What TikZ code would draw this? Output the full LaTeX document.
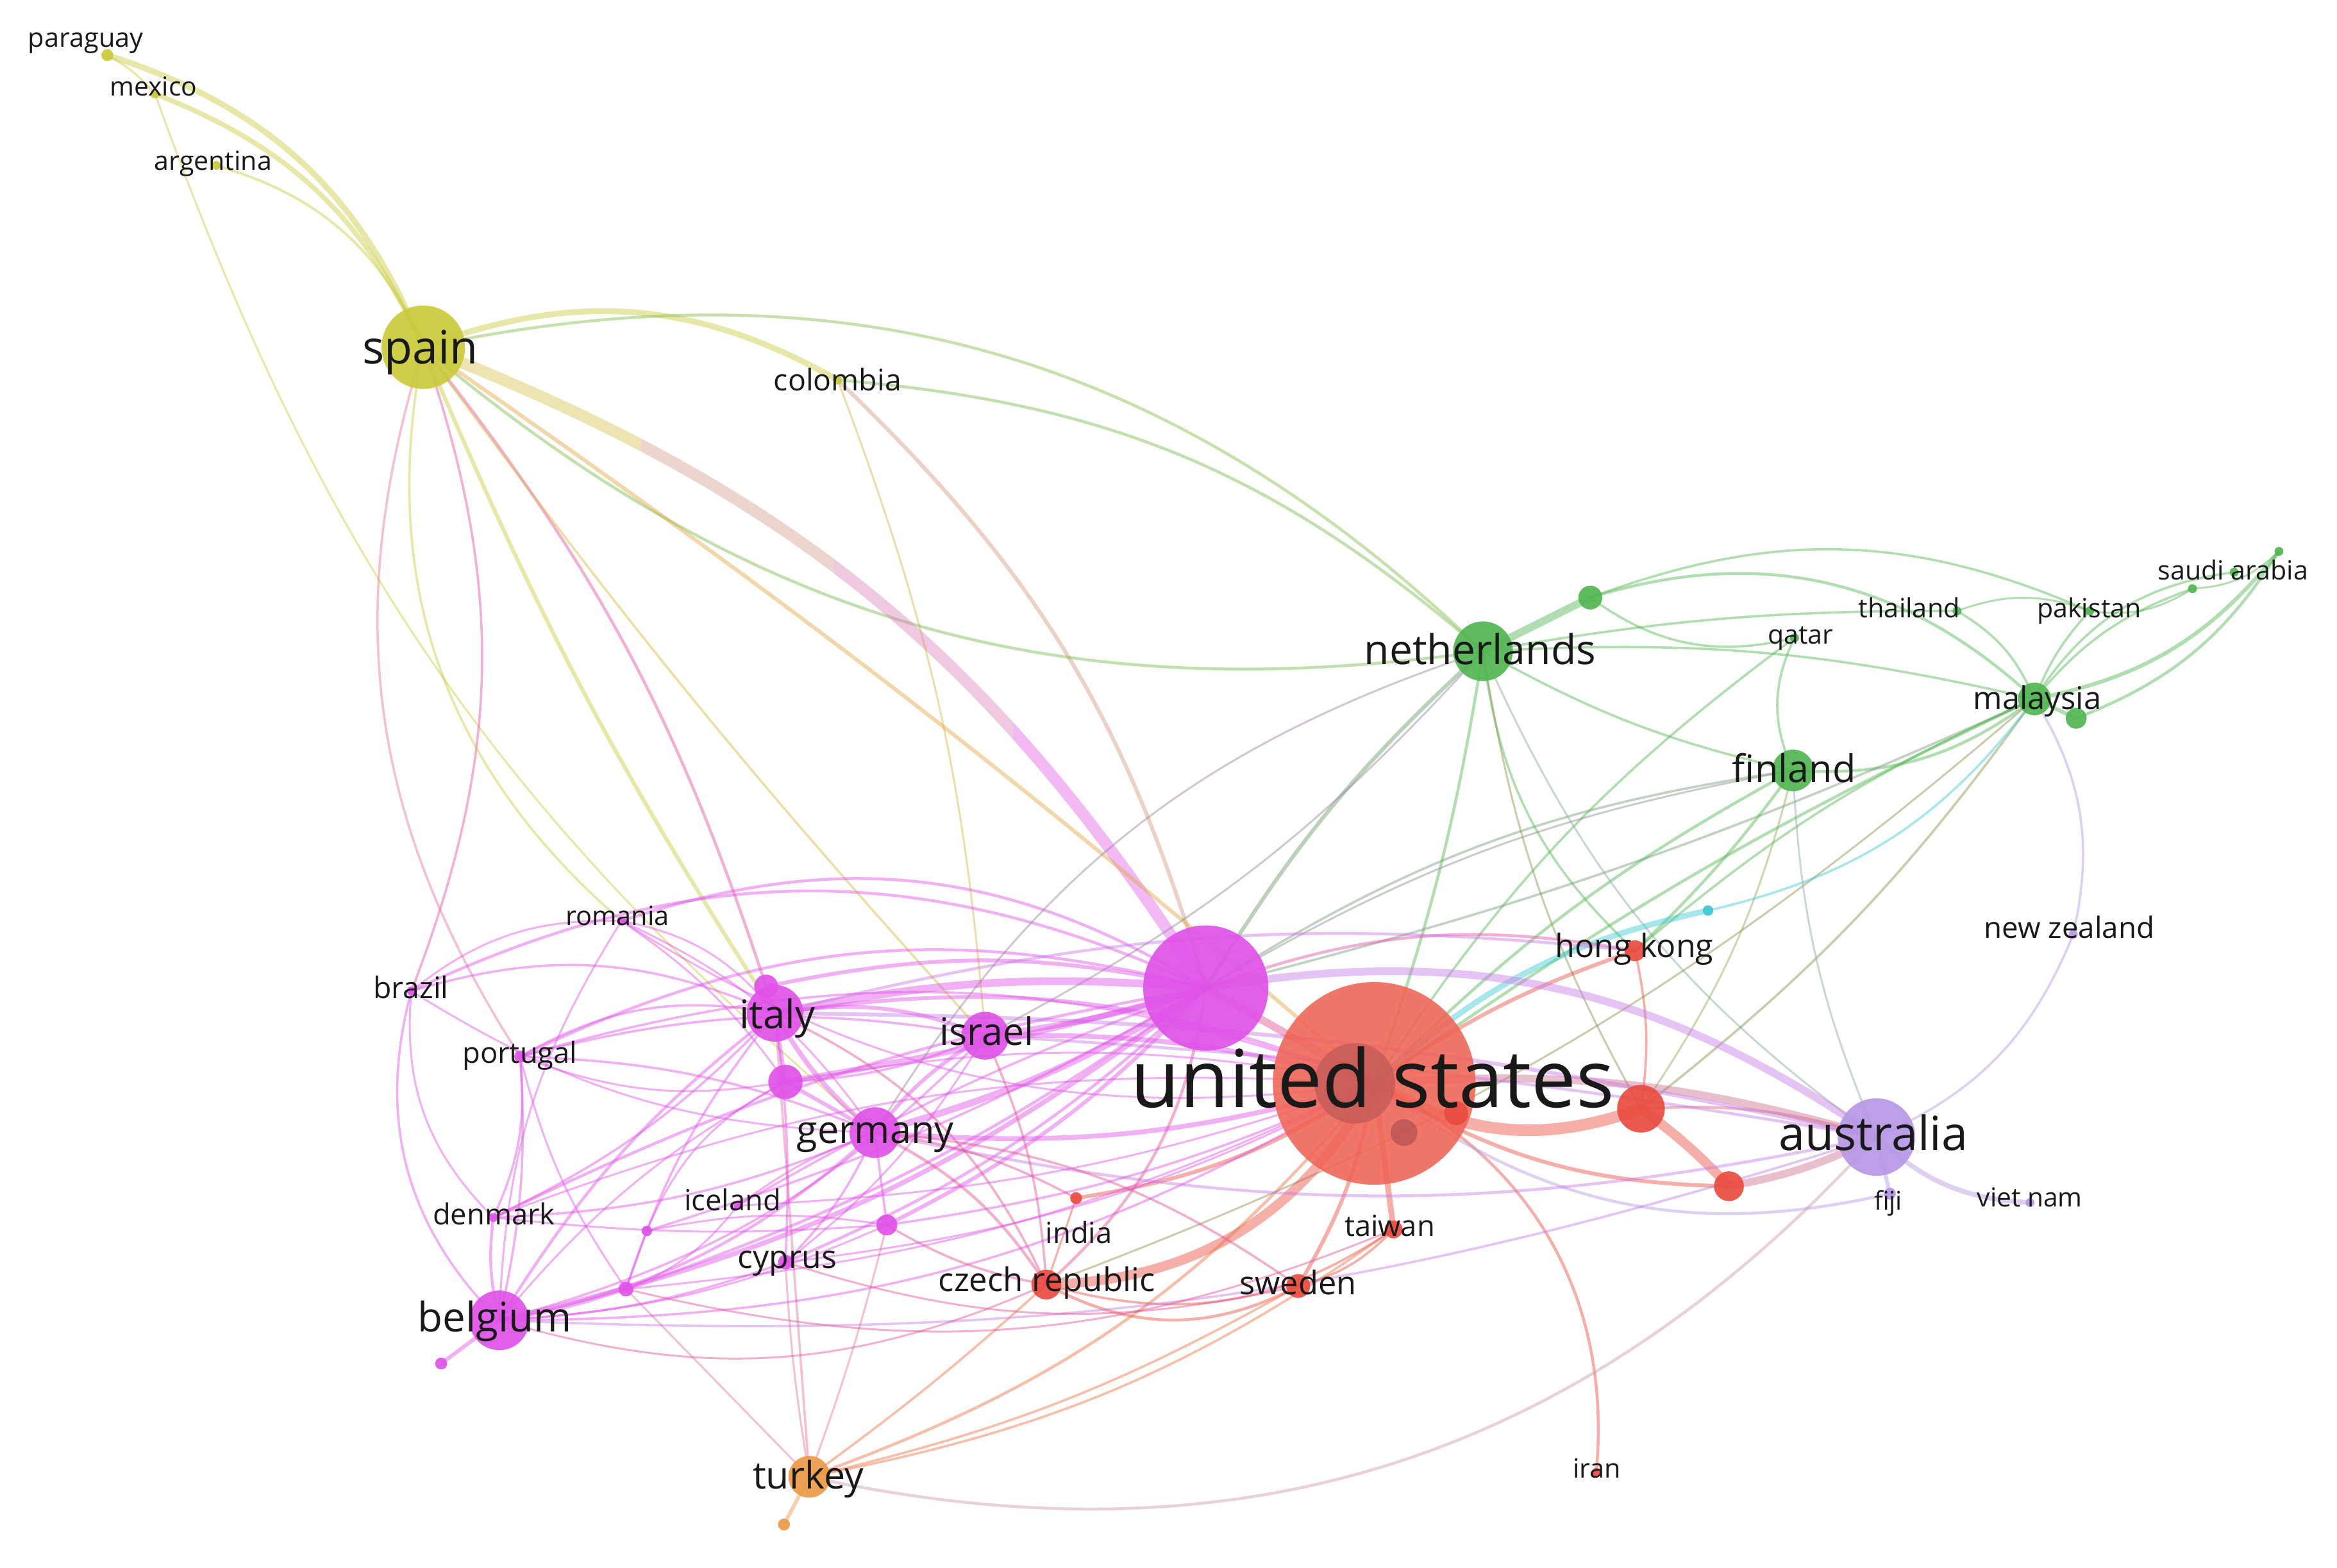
\documentclass[tikz,border=0pt]{standalone}
\usepackage{fontspec}
\setmainfont{Open Sans}
\pgfdeclarelayer{bg}
\pgfdeclarelayer{edges}
\pgfsetlayers{bg,edges,main}
\definecolor{cR}{RGB}{234,76,64}
\definecolor{cUS}{RGB}{240,100,86}
\definecolor{cRd}{RGB}{190,88,86}
\definecolor{cM}{RGB}{224,82,232}
\definecolor{cG}{RGB}{82,182,82}
\definecolor{cY}{RGB}{202,202,60}
\definecolor{cL}{RGB}{182,152,230}
\definecolor{cO}{RGB}{236,154,72}
\definecolor{cC}{RGB}{62,200,212}
\definecolor{txt}{RGB}{25,25,25}
\def\lwf{1.3}
\begin{document}
\begin{tikzpicture}[x=0.23246mm,y=-0.23246mm,
  nd/.style={circle,inner sep=0pt,outer sep=0pt,minimum size=#1*0.46492mm,fill opacity=0.92},
  lw/.style={line width=#1*\lwf*0.6594pt},
  ed/.style={draw=#1,draw opacity=0.45,line width=1.3pt},
  lab/.style={text=txt,inner sep=0pt,anchor=base,font=\fontsize{#1}{#1}\selectfont},
]
\begin{pgfonlayer}{bg}
\fill[white] (0,0) rectangle (1568,1052);
\end{pgfonlayer}
\useasboundingbox (0,0) rectangle (1568,1052);

% ---------------- nodes ----------------
\node[nd=68,fill=cUS,fill opacity=0.88] (us) at (922,727) {};
\node[nd=27,fill=cRd,fill opacity=0.7] (usI) at (909,727) {};
\node[nd=9,fill=cRd] (usII) at (942,760) {};
\node[nd=8,fill=cR] (usIII) at (977,747) {};
\node[nd=42,fill=cM] (mag) at (809,663) {};
\node[nd=28,fill=cY] (spain) at (284,233) {};
\node[nd=20,fill=cG] (neth) at (995,437) {};
\node[nd=8,fill=cG] (nethS) at (1067,401) {};
\node[nd=26,fill=cL] (aus) at (1259,763) {};
\node[nd=14,fill=cG] (fin) at (1203,517) {};
\node[nd=11,fill=cG] (mal) at (1365,469) {};
\node[nd=7,fill=cG] (malS) at (1393,482) {};
\node[nd=3,fill=cG] (sauA) at (1529,370) {};
\node[nd=3,fill=cG] (sauB) at (1499,384) {};
\node[nd=3,fill=cG] (sauC) at (1471,395) {};
\node[nd=3,fill=cG] (tha) at (1313,410) {};
\node[nd=3,fill=cG] (pak) at (1402,410) {};
\node[nd=3,fill=cG] (qat) at (1204,428) {};
\node[nd=3,fill=cL] (nz) at (1391,627) {};
\node[nd=7,fill=cR] (hk) at (1097,638) {};
\node[nd=3.5,fill=cC] (cyan) at (1146,611) {};
\node[nd=16,fill=cR] (redA) at (1101,744) {};
\node[nd=10,fill=cR] (redB) at (1160,796) {};
\node[nd=6,fill=cR] (tai) at (935,825) {};
\node[nd=8,fill=cR] (swe) at (871,863) {};
\node[nd=10,fill=cR] (cze) at (702,862) {};
\node[nd=4,fill=cR] (ind) at (722,804) {};
\node[nd=3,fill=cR] (iran) at (1071,988) {};
\node[nd=14,fill=cO] (tur) at (543,991) {};
\node[nd=4,fill=cO] (turS) at (526,1023) {};
\node[nd=4,fill=cL] (fiji) at (1268,801) {};
\node[nd=3,fill=cL] (viet) at (1362,807) {};
\node[nd=19,fill=cM] (ita) at (520,680) {};
\node[nd=8,fill=cM] (itaS) at (514,662) {};
\node[nd=11.5,fill=cM] (mag2) at (527,726) {};
\node[nd=17,fill=cM] (ger) at (587,760) {};
\node[nd=16,fill=cM] (isr) at (661,695) {};
\node[nd=20,fill=cM] (bel) at (335,886) {};
\node[nd=4,fill=cM] (belS) at (296,915) {};
\node[nd=5,fill=cM] (mA) at (420,865) {};
\node[nd=3.5,fill=cM] (mB) at (434,826) {};
\node[nd=7,fill=cM] (mC) at (595,822) {};
\node[nd=5,fill=cM] (cyp) at (527,847) {};
\node[nd=3,fill=cM] (ice) at (495,809) {};
\node[nd=3,fill=cM] (den) at (331,817) {};
\node[nd=4,fill=cM] (por) at (349,709) {};
\node[nd=3,fill=cM] (bra) at (276,665) {};
\node[nd=3,fill=cM] (rom) at (417,618) {};
\node[nd=4,fill=cY] (par) at (72,37) {};
\node[nd=3,fill=cY] (mex) at (104,63) {};
\node[nd=3,fill=cY] (arg) at (145,111) {};
\node[nd=3,fill=cY] (col) at (562,255) {};

% ---------------- edges ----------------
\begin{pgfonlayer}{edges}
% yellow
\draw[ed=cY,lw=3] (par.center) to[bend left=25] (spain.center);
\draw[ed=cY,lw=2.5] (mex.center) to[bend left=22] (spain.center);
\draw[ed=cY,lw=1.3] (arg.center) to[bend left=25] (spain.center);
\draw[ed=cY,lw=1] (mex.center) to[bend right=15] (ger.center);
\draw[ed=cY,lw=1] (par.center) to[bend left=10] (mex.center);
\draw[ed=cY,lw=3] (spain.center) to[bend left=25] (col.center);
\draw[ed=cY!60!cM,lw=2] (col.center) to[bend left=15] (mag.center);
\draw[ed=cY!60!cO,lw=1] (col.center) to[bend left=8] (isr.center);
\draw[ed=cY!40!cG,lw=1.5] (spain.center) to[bend left=28] (neth.center);
\draw[ed=cG!70!cY,lw=1.5] (col.center) to[bend left=18] (neth.center);
\draw[ed=cG!70!cY,lw=1.5] (spain.center) to[bend right=24] (neth.center);
% thick spain - mag edge, colour shifting from yellow to pink
\begin{scope}
\clip (0,0) rectangle (430,1052);
\draw[ed=cY!80!cO,lw=6,draw opacity=0.4] (spain.center) to[bend left=18] (mag.center);
\end{scope}
\begin{scope}
\clip (430,0) rectangle (560,1052);
\draw[ed=cY!55!cM,lw=6,draw opacity=0.4] (spain.center) to[bend left=18] (mag.center);
\end{scope}
\begin{scope}
\clip (560,0) rectangle (680,1052);
\draw[ed=cM!70!cY,lw=6,draw opacity=0.4] (spain.center) to[bend left=18] (mag.center);
\end{scope}
\begin{scope}
\clip (680,0) rectangle (1568,1052);
\draw[ed=cM,lw=6,draw opacity=0.4] (spain.center) to[bend left=18] (mag.center);
\end{scope}
\draw[ed=cO!70!cY,lw=2] (spain.center) to[bend left=3] (us.center);
\draw[ed=cY,lw=2] (spain.center) to[bend right=5] (ita.center);
\draw[ed=cR!40!cM,lw=1.5] (spain.center) to[bend left=10] (itaS.center);
\draw[ed=cM!60!cR,lw=1.2] (spain.center) to[bend left=20] (bra.center);
\draw[ed=cM!50!cO,lw=1.2] (spain.center) to[bend right=25] (por.center);
\draw[ed=cY,lw=1.2] (spain.center) to[bend right=30] (rom.center);
\draw[ed=cY!70!cO,lw=1.2] (spain.center) to[bend right=3] (isr.center);
% green
\draw[ed=cG,lw=4] (neth.center) -- (nethS.center);
\draw[ed=cG,lw=1.5] (nethS.center) to[bend left=30] (mal.center);
\draw[ed=cG,lw=1.2] (nethS.center) to[bend left=22] (pak.center);
\draw[ed=cG,lw=1.2] (nethS.center) to[bend right=25] (qat.center);
\draw[ed=cG,lw=1.2] (neth.center) to[bend left=5] (tha.center);
\draw[ed=cG,lw=1.2] (neth.center) to[bend left=8] (mal.center);
\draw[ed=cG,lw=1.2] (neth.center) to[bend right=8] (fin.center);
\draw[ed=cG,lw=1.2] (qat.center) to[bend right=25] (fin.center);
\draw[ed=cG,lw=1.2] (qat.center) to[bend right=10] (us.center);
\draw[ed=cG,lw=1.5] (fin.center) to[bend right=20] (mal.center);
\draw[ed=cG,lw=2] (mal.center) to[bend right=20] (sauA.center);
\draw[ed=cG,lw=1.5] (malS.center) to[bend right=18] (sauA.center);
\draw[ed=cG,lw=1.2] (mal.center) to[bend left=25] (sauB.center);
\draw[ed=cG,lw=1.2] (mal.center) to[bend left=15] (sauC.center);
\draw[ed=cG,lw=1] (pak.center) to[bend right=20] (sauC.center);
\draw[ed=cG,lw=1.2] (mal.center) to[bend left=10] (pak.center);
\draw[ed=cG,lw=1.2] (mal.center) to[bend right=18] (tha.center);
\draw[ed=cG,lw=1] (sauC.center) to[bend right=20] (sauA.center);
\draw[ed=cG,lw=2] (mal.center) -- (malS.center);
\draw[ed=cG,lw=1] (tha.center) to[bend left=20] (pak.center);
\draw[ed=cG,lw=1.5] (mal.center) to[bend right=5] (us.center);
\draw[ed=cG!75!cM,lw=1.2] (mal.center) to[bend left=5] (mag.center);
\draw[ed=cG!70!cR,lw=1.2] (mal.center) to[bend left=8] (redA.center);
\draw[ed=cG,lw=1.2] (mal.center) to[bend right=8] (hk.center);
\draw[ed=cG!60!cR,lw=1] (mal.center) to[bend left=10] (cze.center);
\draw[ed=cG,lw=1.5] (fin.center) to[bend right=8] (us.center);
\draw[ed=cG!75!cM,lw=1.2] (fin.center) to[bend right=12] (mag.center);
\draw[ed=cG,lw=1.5] (fin.center) to[bend left=5] (hk.center);
\draw[ed=cG!60!cO,lw=1] (fin.center) to[bend left=10] (redA.center);
\draw[ed=cG!50!gray,lw=2] (neth.center) to[bend right=8] (mag.center);
\draw[ed=cG,lw=1.5] (neth.center) to[bend left=5] (us.center);
\draw[ed=cG,lw=1.2] (neth.center) to[bend right=20] (hk.center);
\draw[ed=cG!60!cR,lw=1] (neth.center) to[bend right=10] (redA.center);
\draw[ed=cG!50!cL,lw=1] (neth.center) to[bend right=15] (aus.center);
\draw[ed=cG!50!cM,lw=1] (neth.center) to[bend left=10] (isr.center);
\draw[ed=cG!60!cM,lw=1] (mag.center) to[bend left=10] (fin.center);
% cyan
\draw[ed=cC,lw=3] (cyan.center) to[bend right=15] (us.center);
\draw[ed=cC,lw=1.2] (cyan.center) to[bend right=20] (mal.center);
% red
\draw[ed=cR,lw=6] (us.center) to[bend right=25] (redA.center);
\draw[ed=cR,lw=5] (redA.center) to[bend left=5] (redB.center);
\draw[ed=cR!50!cL,lw=4] (redB.center) to[bend right=8] (aus.center);
\draw[ed=cR,lw=2] (us.center) to[bend right=15] (redB.center);
\draw[ed=cR!50!cL,lw=4] (us.center) to[bend left=10] (aus.center);
\draw[ed=cR,lw=5] (us.center) to[bend left=30] (cze.center);
\draw[ed=cR,lw=2] (us.center) to[bend left=10] (swe.center);
\draw[ed=cR,lw=3] (us.center) -- (tai.center);
\draw[ed=cR,lw=2] (us.center) to[bend left=12] (ind.center);
\draw[ed=cR,lw=1.5] (us.center) to[bend left=35] (iran.center);
\draw[ed=cR,lw=2] (us.center) to[bend left=8] (hk.center);
\draw[ed=cR,lw=1.5] (cze.center) to[bend right=28] (swe.center);
\draw[ed=cR,lw=1.2] (swe.center) to[bend right=15] (tai.center);
\draw[ed=cR,lw=1] (cze.center) -- (ind.center);
\draw[ed=cR,lw=1.2] (cze.center) to[bend right=25] (tai.center);
\draw[ed=cR,lw=1.2] (redA.center) to[bend right=10] (hk.center);
\draw[ed=cR!60!cL,lw=1.5] (redA.center) to[bend left=10] (aus.center);
% orange
\draw[ed=cO,lw=2] (tur.center) -- (turS.center);
\draw[ed=cO!50!cR,lw=1.5] (tur.center) to[bend right=15] (us.center);
\draw[ed=cO!50!cR,lw=1.2] (tur.center) to[bend right=12] (tai.center);
\draw[ed=cO!50!cR,lw=1.2] (tur.center) to[bend right=8] (swe.center);
\draw[ed=cO!50!cR,lw=1.2] (tur.center) to[bend right=3] (cze.center);
\draw[ed=cO!50!cM,lw=1.2] (tur.center) -- (ita.center);
\draw[ed=cO!50!cM,lw=1] (tur.center) to[bend left=3] (cyp.center);
\draw[ed=cO!50!cM,lw=1] (tur.center) to[bend right=3] (mC.center);
\draw[ed=cO!50!cM,lw=1] (tur.center) -- (mA.center);
\draw[ed=cO!40!cL,lw=1.5] (tur.center) to[bend right=30] (aus.center);
% lavender
\draw[ed=cL,lw=2] (aus.center) -- (fiji.center);
\draw[ed=cL,lw=2.5] (aus.center) to[bend right=20] (viet.center);
\draw[ed=cL,lw=1.2] (mal.center) to[bend left=22] (nz.center);
\draw[ed=cL,lw=1.2] (nz.center) to[bend left=22] (aus.center);
\draw[ed=cL!60!cM,lw=4] (mag.center) to[bend left=22] (aus.center);
\draw[ed=cL,lw=1.5] (us.center) to[bend right=25] (fiji.center);
\draw[ed=cL!60!cM,lw=1.5] (ger.center) to[bend right=12] (aus.center);
\draw[ed=cL!60!cM,lw=1.2] (bel.center) to[bend right=10] (aus.center);
\draw[ed=cL!60!cM,lw=2] (ita.center) to[bend left=6] (aus.center);
\draw[ed=cL!60!cM,lw=1.5] (isr.center) to[bend left=3] (aus.center);
\draw[ed=cL!60!cG,lw=1] (fin.center) to[bend right=10] (aus.center);
% magenta hub
\draw[ed=cM,lw=4] (mag.center) to[bend right=8] (ita.center);
\draw[ed=cM,lw=3] (mag.center) to[bend left=5] (isr.center);
\draw[ed=cM,lw=3.5] (mag.center) to[bend left=8] (ger.center);
\draw[ed=cM,lw=3] (mag.center) to[bend left=3] (mag2.center);
\draw[ed=cM,lw=2] (mag.center) to[bend right=12] (itaS.center);
\draw[ed=cM,lw=2.5] (mag.center) to[bend left=12] (bel.center);
\draw[ed=cM,lw=1.5] (mag.center) to[bend right=20] (por.center);
\draw[ed=cM,lw=1.5] (mag.center) to[bend right=8] (den.center);
\draw[ed=cM,lw=1.5] (mag.center) to[bend right=25] (rom.center);
\draw[ed=cM,lw=1.5] (mag.center) to[bend right=25] (bra.center);
\draw[ed=cM,lw=1.5] (mag.center) to[bend left=10] (cyp.center);
\draw[ed=cM,lw=1.2] (mag.center) to[bend right=5] (ice.center);
\draw[ed=cM,lw=1.5] (mag.center) to[bend left=8] (mA.center);
\draw[ed=cM,lw=1.2] (mag.center) to[bend left=6] (mB.center);
\draw[ed=cM,lw=2] (mag.center) to[bend left=10] (mC.center);
\draw[ed=cM!50!cR,lw=4] (mag.center) -- (us.center);
\draw[ed=cM!60!cR,lw=1.5] (mag.center) to[bend left=15] (hk.center);
\draw[ed=cM!50!cR,lw=1.5] (mag.center) to[bend left=20] (cze.center);
% italy
\draw[ed=cM,lw=2.5] (ita.center) to[bend right=10] (ger.center);
\draw[ed=cM,lw=2] (ita.center) to[bend left=15] (isr.center);
\draw[ed=cM,lw=2] (ita.center) -- (mag2.center);
\draw[ed=cM,lw=1.5] (ita.center) -- (itaS.center);
\draw[ed=cM,lw=2] (ita.center) to[bend left=15] (us.center);
\draw[ed=cM,lw=1.5] (ita.center) to[bend right=10] (bel.center);
\draw[ed=cM,lw=1.2] (ita.center) to[bend right=20] (por.center);
\draw[ed=cM,lw=1.2] (ita.center) to[bend left=10] (den.center);
\draw[ed=cM,lw=1.2] (ita.center) to[bend right=20] (bra.center);
\draw[ed=cM,lw=1.2] (ita.center) to[bend left=5] (cyp.center);
\draw[ed=cM,lw=1.2] (ita.center) to[bend right=10] (mA.center);
\draw[ed=cM,lw=1] (ita.center) to[bend right=20] (rom.center);
\draw[ed=cM!50!cR,lw=1.2] (ita.center) to[bend left=20] (cze.center);
\draw[ed=cM!50!cL,lw=1.5] (ita.center) to[bend left=10] (hk.center);
% germany
\draw[ed=cM,lw=2.5] (ger.center) to[bend right=10] (us.center);
\draw[ed=cM,lw=2] (ger.center) to[bend left=10] (isr.center);
\draw[ed=cM,lw=2] (ger.center) -- (mag2.center);
\draw[ed=cM,lw=1.5] (ger.center) to[bend left=15] (bel.center);
\draw[ed=cM,lw=1.2] (ger.center) to[bend right=10] (por.center);
\draw[ed=cM,lw=1.2] (ger.center) to[bend left=10] (den.center);
\draw[ed=cM,lw=1.2] (ger.center) -- (mC.center);
\draw[ed=cM,lw=1.2] (ger.center) to[bend left=10] (cyp.center);
\draw[ed=cM,lw=1] (ger.center) to[bend right=8] (ice.center);
\draw[ed=cM,lw=1] (ger.center) to[bend right=15] (rom.center);
\draw[ed=cM!50!cR,lw=1.5] (ger.center) to[bend left=15] (cze.center);
\draw[ed=cM!50!cR,lw=1.2] (ger.center) to[bend left=15] (swe.center);
\draw[ed=cM!50!cR,lw=1.2] (ger.center) to[bend left=10] (ind.center);
\draw[ed=cG!50!cM,lw=1] (ger.center) to[bend left=20] (neth.center);
% israel
\draw[ed=cM,lw=2.5] (isr.center) to[bend left=8] (us.center);
\draw[ed=cM,lw=1.2] (isr.center) to[bend left=15] (bel.center);
\draw[ed=cM,lw=1.2] (isr.center) to[bend right=12] (por.center);
\draw[ed=cM,lw=1.2] (isr.center) to[bend left=10] (mag2.center);
\draw[ed=cM!50!cR,lw=1.2] (isr.center) to[bend left=10] (cze.center);
\draw[ed=cM,lw=1] (isr.center) to[bend left=10] (cyp.center);
% belgium and others
\draw[ed=cM,lw=2] (bel.center) -- (belS.center);
\draw[ed=cM,lw=1.5] (bel.center) to[bend left=10] (den.center);
\draw[ed=cM,lw=1.2] (bel.center) to[bend right=8] (por.center);
\draw[ed=cM,lw=1.2] (bra.center) to[bend right=30] (bel.center);
\draw[ed=cM,lw=1.5] (bel.center) to[bend right=5] (mA.center);
\draw[ed=cM,lw=1.2] (bel.center) to[bend right=15] (us.center);
\draw[ed=cM,lw=1.2] (bel.center) to[bend right=8] (cyp.center);
\draw[ed=cM,lw=1] (bel.center) to[bend left=10] (mag2.center);
\draw[ed=cM,lw=1] (bel.center) to[bend right=10] (mC.center);
\draw[ed=cM,lw=1.2] (por.center) to[bend left=15] (den.center);
\draw[ed=cM,lw=1.2] (por.center) to[bend left=18] (us.center);
\draw[ed=cM,lw=1] (por.center) to[bend right=15] (mag2.center);
\draw[ed=cM,lw=1] (por.center) to[bend right=10] (mA.center);
\draw[ed=cM,lw=1] (bra.center) to[bend right=25] (den.center);
\draw[ed=cM,lw=1] (bra.center) to[bend left=20] (rom.center);
\draw[ed=cM,lw=1] (bra.center) to[bend right=15] (ger.center);
\draw[ed=cM,lw=1] (rom.center) to[bend left=10] (mag2.center);
\draw[ed=cM,lw=1] (rom.center) to[bend right=20] (us.center);
\draw[ed=cM,lw=1] (rom.center) to[bend right=15] (bel.center);
\draw[ed=cM,lw=1] (den.center) to[bend left=12] (us.center);
\draw[ed=cM,lw=1] (den.center) to[bend right=5] (mC.center);
\draw[ed=cM,lw=1] (mA.center) to[bend right=10] (us.center);
\draw[ed=cM,lw=1] (mA.center) -- (mB.center);
\draw[ed=cM,lw=1] (mB.center) to[bend left=10] (mC.center);
\draw[ed=cM,lw=1] (mB.center) to[bend left=20] (mag2.center);
\draw[ed=cM,lw=1] (cyp.center) to[bend right=10] (us.center);
\draw[ed=cM,lw=1] (ice.center) to[bend right=8] (us.center);
\draw[ed=cM,lw=1] (ice.center) to[bend left=15] (mA.center);
\draw[ed=cM,lw=1.2] (mC.center) to[bend right=8] (us.center);
\draw[ed=cM,lw=1] (mag2.center) to[bend left=10] (us.center);
\draw[ed=cM!50!cR,lw=1.2] (mC.center) to[bend right=10] (cze.center);
\draw[ed=cM!50!cR,lw=1] (cyp.center) to[bend right=15] (swe.center);
\draw[ed=cM!50!cR,lw=1] (bel.center) to[bend right=20] (cze.center);
\draw[ed=cM!50!cR,lw=1] (mA.center) to[bend right=18] (tai.center);
\end{pgfonlayer}

% ---------------- labels ----------------
\node[lab=35.5pt] (Lus) at (921,743) {united states};
\node[lab=20.4pt] (Lspain) at (282,244) {spain};
\node[lab=20.9pt] (Laus) at (1257,772) {australia};
\node[lab=18.3pt] (Lneth) at (993,446) {netherlands};
\node[lab=18.1pt] (Lbel) at (332,893.5) {belgium};
\node[lab=17.5pt] (Lita) at (521.5,690.4) {italy};
\node[lab=16.9pt] (Lger) at (587.3,767.3) {germany};
\node[lab=16.8pt] (Lisr) at (661.9,701.5) {israel};
\node[lab=16.9pt] (Lfin) at (1203.7,525.2) {finland};
\node[lab=16.8pt] (Ltur) at (542.2,999) {turkey};
\node[lab=13.9pt] (Lmal) at (1366.9,475.8) {malaysia};
\node[lab=14.3pt] (Lhk) at (1096.5,642.6) {hong kong};
\node[lab=14.5pt] (Lcze) at (702.3,866.5) {czech republic};
\node[lab=14.4pt] (Lswe) at (870.9,868.8) {sweden};
\node[lab=14.2pt] (Lcyp) at (528.1,851.2) {cyprus};
\node[lab=13.2pt] (Lcol) at (562,262) {colombia};
\node[lab=13.2pt] (Lbra) at (275.7,670.2) {brazil};
\node[lab=12.9pt] (Lpor) at (348.8,713.5) {portugal};
\node[lab=12.9pt] (Lden) at (331.4,822) {denmark};
\node[lab=12.9pt] (Lice) at (491.5,812.2) {iceland};
\node[lab=12.9pt] (Lind) at (723.8,834.1) {india};
\node[lab=12.9pt] (Ltai) at (932.4,829.4) {taiwan};
\node[lab=13pt] (Lnz) at (1388.3,629.4) {new zealand};
\node[lab=11.8pt] (Lrom) at (414.3,620.9) {romania};
\node[lab=11.8pt] (Lpar) at (57.5,31.7) {paraguay};
\node[lab=11.6pt] (Lmex) at (103,64.3) {mexico};
\node[lab=11.7pt] (Larg) at (143,114.3) {argentina};
\node[lab=11.8pt] (Liran) at (1071.5,991.6) {iran};
\node[lab=11.7pt] (Lqat) at (1208,431.9) {qatar};
\node[lab=11.8pt] (Ltha) at (1281,414.3) {thailand};
\node[lab=11.7pt] (Lpak) at (1401.7,414.3) {pakistan};
\node[lab=11.7pt] (Lsau) at (1498.3,389.1) {saudi arabia};
\node[lab=11.4pt] (Lfiji) at (1266.9,811.8) {fiji};
\node[lab=11.6pt] (Lviet) at (1361.8,809.6) {viet nam};
\end{tikzpicture}
\end{document}
